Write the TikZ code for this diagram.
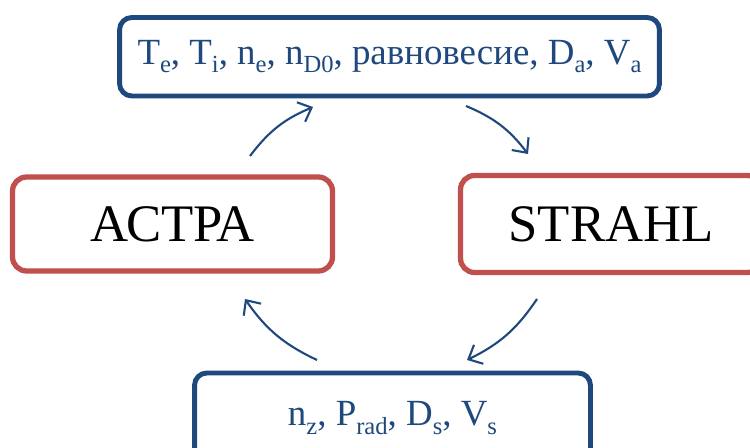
\documentclass[tikz,border=0pt]{standalone}
\usepackage{fontspec}
\setmainfont{Liberation Serif}
\usetikzlibrary{arrows.meta}
\definecolor{boxblue}{RGB}{31,73,125}
\definecolor{boxred}{RGB}{192,80,77}
\newcommand{\lo}[1]{\raisebox{-0.22em}{\fontsize{14}{14}\selectfont #1}}
\begin{document}
\begin{tikzpicture}[x=0.02cm,y=-0.02cm,
	bluebox/.style={draw=boxblue,line width=2.8pt,rounded corners=7pt,text=boxblue,font=\fontsize{21}{25}\selectfont,inner sep=0pt},
	redbox/.style={draw=boxred,line width=3pt,rounded corners=8pt,font=\fontsize{30}{36}\selectfont,inner sep=0pt},
	flow/.style={boxblue,line width=1.2pt,-{Straight Barb[length=6.5pt,width=12pt]}}]
	\useasboundingbox (0,0) rectangle (750,448);
	\node [bluebox,minimum width=10.8cm,minimum height=1.57cm] (params) at (389.5,56.75) {T\lo{e}, T\lo{i}, n\lo{e}, n\lo{D0}, равновесие, D\lo{a}, V\lo{a}};
	\node [redbox,minimum width=6.4cm,minimum height=1.88cm] (astra) at (172.5,224) {АСТРА};
	\node [redbox,minimum width=6.02cm,minimum height=1.94cm] (strahl) at (611,224) {STRAHL};
	\node [bluebox,minimum width=7.92cm,minimum height=1.8cm] (impur) at (392.5,418) {n\lo{z}, P\lo{rad}, D\lo{s}, V\lo{s}};
	\coordinate (c1) at (250,156);
	\coordinate (c2) at (313,107);
	\coordinate (c3) at (466,106);
	\coordinate (c4) at (528,154);
	\coordinate (c5) at (537,299);
	\coordinate (c6) at (467,360);
	\coordinate (c7) at (317,360);
	\coordinate (c8) at (245,299);
	\draw [flow] (c1) to [bend left=15] (c2);
	\draw [flow] (c3) to [bend left=15] (c4);
	\draw [flow] (c5) to [bend left=15] (c6);
	\draw [flow] (c7) to [bend left=15] (c8);
\end{tikzpicture}
\end{document}
